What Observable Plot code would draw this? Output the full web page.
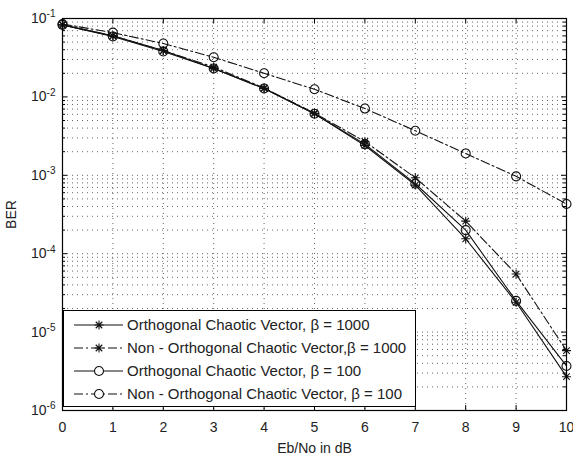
<!DOCTYPE html>
<html>
<head>
<meta charset="utf-8">
<script src="https://cdn.jsdelivr.net/npm/d3@7"></script>
<script src="https://cdn.jsdelivr.net/npm/@observablehq/plot@0.6"></script>
<style>
  body { margin: 0; background: #fff; font-family: "Liberation Sans", Arial, sans-serif; }
  #wrap { position: relative; width: 573px; height: 457px; overflow: hidden; }
  #legend { position: absolute; left: 63px; top: 310px; width: 351px; height: 95px; border: 1px solid #000; background: #fff; }
  #legend .row { position: absolute; left: 0; height: 20px; width: 350px; }
  #legend .row svg { position: absolute; left: 0; top: 0; }
  #legend .row span { position: absolute; left: 63px; top: 0; line-height: 20px; font-size: 15px; color: #222; white-space: nowrap; }
</style>
</head>
<body>
<div id="wrap"></div>
<script>
// ---- data ----
const ebno = [0, 1, 2, 3, 4, 5, 6, 7, 8, 9, 10];
const berOrth1000    = [0.083, 0.060, 0.039, 0.023, 0.0128, 0.0061, 0.0024, 0.00075, 0.000155, 0.000024, 0.0000027];
const berNonOrth1000 = [0.083, 0.060, 0.039, 0.024, 0.0130, 0.0062, 0.0027, 0.00093, 0.00026, 0.000055, 0.0000058];
const berOrth100     = [0.083, 0.059, 0.038, 0.023, 0.0128, 0.0061, 0.0025, 0.00078, 0.00020, 0.000025, 0.0000037];
const berNonOrth100  = [0.085, 0.066, 0.048, 0.032, 0.020, 0.0125, 0.0071, 0.0037, 0.0019, 0.00097, 0.00043];
const seriesNames = [
  "Orthogonal Chaotic Vector, \u03b2 = 1000",
  "Non - Orthogonal Chaotic Vector,\u03b2 = 1000",
  "Orthogonal Chaotic Vector, \u03b2 = 100",
  "Non - Orthogonal Chaotic Vector, \u03b2 = 100"
];
const xTicks = [0, 1, 2, 3, 4, 5, 6, 7, 8, 9, 10];
const yDecades = [1e-6, 1e-5, 1e-4, 1e-3, 1e-2, 1e-1];
const xLabel = "Eb/No in dB";
const yLabel = "BER";

// minor log ticks 2..9 within each decade
const yMinor = [];
for (const d of yDecades.slice(0, -1)) for (let k = 2; k <= 9; k++) yMinor.push(d * k);

// MATLAB-like '*' marker (plus + shorter x)
const star8 = {
  draw(ctx, size) {
    const r = Math.sqrt(size / Math.PI);
    const q = r * 0.72;
    ctx.moveTo(0, -r); ctx.lineTo(0, r);
    ctx.moveTo(-r, 0); ctx.lineTo(r, 0);
    ctx.moveTo(-q, -q); ctx.lineTo(q, q);
    ctx.moveTo(-q, q); ctx.lineTo(q, -q);
  }
};

const dashDot = "9,3,2,3";
const series = [
  {name: seriesNames[0], values: berOrth1000, dash: null, symbol: star8},
  {name: seriesNames[1], values: berNonOrth1000, dash: dashDot, symbol: star8},
  {name: seriesNames[2], values: berOrth100, dash: null, symbol: "circle"},
  {name: seriesNames[3], values: berNonOrth100, dash: dashDot, symbol: "circle"}
];
const tables = series.map(s => ebno.map((x, i) => ({x, ber: s.values[i], series: s.name})));

const gridStyle = {stroke: "#666", strokeWidth: 1, strokeDasharray: "1,4"};

const marks = [
  Plot.ruleX(xTicks, {x: d => d, ...gridStyle}),
  Plot.ruleY(yDecades.concat(yMinor), {y: d => d, ...gridStyle}),
  // inward ticks (box on)
  Plot.ruleX(xTicks, {x: d => d, y1: 1e-6, y2: 1e-6, insetTop: -5, stroke: "#000"}),
  Plot.ruleX(xTicks, {x: d => d, y1: 1e-1, y2: 1e-1, insetBottom: -5, stroke: "#000"}),
  Plot.ruleY(yDecades, {y: d => d, x1: 0, x2: 0, insetRight: -5, stroke: "#000"}),
  Plot.ruleY(yDecades, {y: d => d, x1: 10, x2: 10, insetLeft: -5, stroke: "#000"}),
  Plot.ruleY(yMinor, {y: d => d, x1: 0, x2: 0, insetRight: -3, stroke: "#000"}),
  Plot.ruleY(yMinor, {y: d => d, x1: 10, x2: 10, insetLeft: -3, stroke: "#000"}),
  ...series.map((s, i) => Plot.line(tables[i], {x: "x", y: "ber", stroke: "#111", strokeWidth: 1.1, strokeDasharray: s.dash || undefined})),
  ...series.map((s, i) => Plot.dot(tables[i], {x: "x", y: "ber", symbol: () => s.symbol, r: 4.5, stroke: "#111", strokeWidth: 1.1, fill: "none"})),
  Plot.frame({stroke: "#000", strokeWidth: 1.2}),
  Plot.axisX({ticks: xTicks, tickSize: 0, tickPadding: 12, tickFormat: d => String(d), label: xLabel, labelAnchor: "center", labelOffset: 42, labelArrow: "none", fill: "#222"}),
  Plot.axisY({ticks: yDecades, tickSize: 0, tickPadding: 7, tickFormat: d => `10|${Math.round(Math.log10(d))}`, label: yLabel, labelAnchor: "center", labelOffset: 56, labelArrow: "none", fill: "#222"})
];

const chart = Plot.plot({
  width: 573,
  height: 457,
  marginLeft: 62,
  marginRight: 7,
  marginTop: 18,
  marginBottom: 47,
  style: {fontFamily: "'Liberation Sans', Arial, sans-serif", fontSize: "14px", background: "#fff"},
  x: {domain: [0, 10]},
  y: {type: "log", domain: [1e-6, 1e-1]},
  symbol: {type: "identity"},
  marks
});
document.getElementById("wrap").appendChild(chart);

// superscript exponents on y tick labels
d3.select(chart).selectAll('g[aria-label="y-axis tick label"] text').each(function () {
  const t = this.textContent;
  if (!t.includes("|")) return;
  const [b, e] = t.split("|");
  const sel = d3.select(this);
  sel.text(null);
  sel.append("tspan").text(b);
  sel.append("tspan").attr("dy", "-0.55em").attr("font-size", "10px").text(e);
});

// legend
const legend = d3.select("#wrap").append("div").attr("id", "legend");
series.forEach((s, i) => {
  const row = legend.append("div").attr("class", "row").style("top", (4 + 23 * i) + "px");
  const sv = row.append("svg").attr("width", 62).attr("height", 20);
  sv.append("line").attr("x1", 10).attr("x2", 59).attr("y1", 10).attr("y2", 10)
    .attr("stroke", "#111").attr("stroke-width", 1.1).attr("stroke-dasharray", s.dash);
  sv.append("path").attr("transform", "translate(35,10)")
    .attr("d", d3.symbol(s.symbol === "circle" ? d3.symbolCircle : s.symbol, Math.PI * 4.5 * 4.5)())
    .attr("fill", s.symbol === "circle" ? "#fff" : "none").attr("stroke", "#111").attr("stroke-width", 1.1);
  row.append("span").text(s.name);
});
</script>
</body>
</html>
